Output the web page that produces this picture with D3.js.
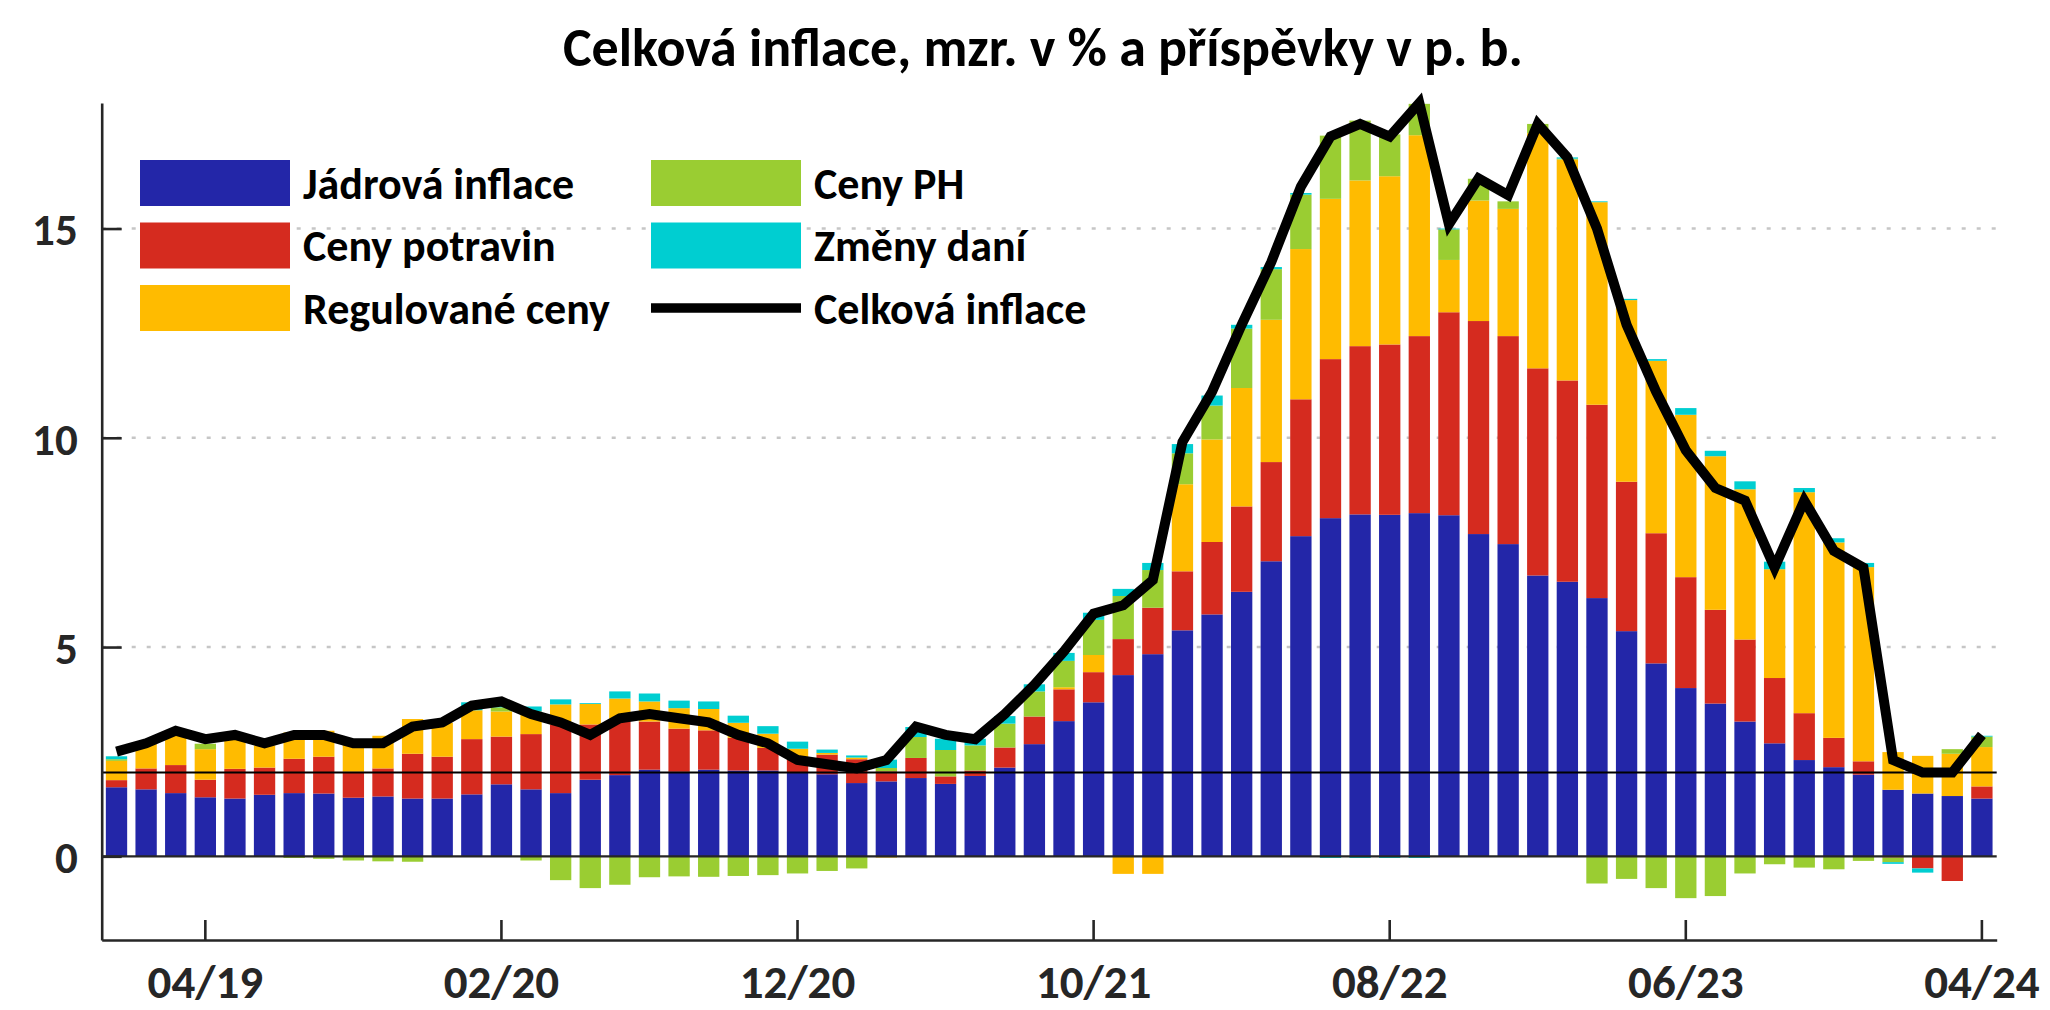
<!DOCTYPE html>
<html>
<head>
<meta charset="utf-8">
<script src="https://cdn.jsdelivr.net/npm/d3@7"></script>
<style>
  html, body { margin: 0; padding: 0; background: #fff; }
  svg { display: block; }
  text { font-family: Carlito, Calibri, Lato, "DejaVu Sans", sans-serif; font-weight: bold; }
</style>
</head>
<body>
<svg id="chart" width="2050" height="1010"></svg>
<script>
// ---------- DATA ----------
const months = [
  "01/19","02/19","03/19","04/19","05/19","06/19","07/19","08/19","09/19","10/19","11/19","12/19",
  "01/20","02/20","03/20","04/20","05/20","06/20","07/20","08/20","09/20","10/20","11/20","12/20",
  "01/21","02/21","03/21","04/21","05/21","06/21","07/21","08/21","09/21","10/21","11/21","12/21",
  "01/22","02/22","03/22","04/22","05/22","06/22","07/22","08/22","09/22","10/22","11/22","12/22",
  "01/23","02/23","03/23","04/23","05/23","06/23","07/23","08/23","09/23","10/23","11/23","12/23",
  "01/24","02/24","03/24","04/24"
];
const tickLabels = ["04/19","02/20","12/20","10/21","08/22","06/23","04/24"];
const yTicks = [0, 5, 10, 15];
const gridValues = [5, 10, 15];
const targetValue = 2;

// Jádrová inflace
const core = [1.65,1.60,1.51,1.41,1.38,1.47,1.51,1.50,1.40,1.43,1.38,1.38,
  1.48,1.72,1.60,1.51,1.83,1.94,2.07,2.02,2.07,2.05,2.05,1.99,
  1.96,1.75,1.79,1.87,1.73,1.92,2.12,2.68,3.23,3.68,4.33,4.83,
  5.40,5.78,6.32,7.05,7.65,8.08,8.17,8.16,8.20,8.15,7.70,7.46,
  6.71,6.56,6.17,5.38,4.61,4.02,3.65,3.22,2.70,2.30,2.13,1.95,
  1.59,1.50,1.44,1.38];
// Ceny potravin
const food = [0.17,0.50,0.67,0.42,0.71,0.65,0.82,0.88,0.62,0.67,1.07,1.00,
  1.32,1.14,1.32,1.64,1.32,1.29,1.15,1.03,0.94,0.78,0.54,0.32,
  0.47,0.57,0.24,0.48,0.18,0.13,0.48,0.66,0.76,0.72,0.86,1.11,
  1.41,1.73,2.04,2.37,3.27,3.80,4.02,4.07,4.23,4.85,5.09,4.97,
  4.95,4.81,4.62,3.57,3.11,2.65,2.24,1.96,1.56,1.12,0.70,0.32,
  -0.03,-0.29,-0.59,0.29];
// Regulované ceny
const regulated = [0.46,0.60,0.72,0.73,0.72,0.53,0.63,0.62,0.70,0.78,0.83,0.81,
  0.69,0.60,0.54,0.48,0.49,0.54,0.48,0.49,0.51,0.36,0.34,0.26,
  0.04,0.04,-0.03,0.00,0.00,0.00,0.00,0.00,0.05,0.41,-0.42,-0.42,
  2.08,2.45,2.83,3.40,3.59,3.83,3.96,4.02,4.80,1.25,2.88,3.04,
  5.62,5.28,4.84,4.34,4.12,3.88,3.67,3.59,2.60,5.28,4.67,4.64,
  0.90,0.90,1.01,0.94];
// Ceny PH
const fuel = [0.04,0.00,0.05,0.13,0.00,0.00,-0.04,-0.06,-0.10,-0.12,-0.13,-0.02,
  0.00,0.10,-0.10,-0.57,-0.76,-0.68,-0.50,-0.48,-0.49,-0.47,-0.45,-0.41,
  -0.35,-0.29,0.08,0.50,0.63,0.60,0.57,0.60,0.63,0.84,1.03,0.90,
  0.74,0.81,1.42,1.21,1.30,1.51,1.43,1.00,0.75,0.73,0.52,0.18,
  0.22,0.02,-0.65,-0.54,-0.76,-1.00,-0.95,-0.41,-0.19,-0.27,-0.31,-0.11,
  -0.11,0.00,0.11,0.25];
// Změny daní
const taxes = [0.07,0.00,0.05,0.00,0.00,0.00,0.00,0.00,0.00,0.00,0.00,0.00,
  0.19,0.10,0.12,0.12,0.02,0.17,0.19,0.18,0.18,0.17,0.18,0.17,
  0.08,0.05,0.20,0.24,0.27,0.16,0.18,0.17,0.19,0.17,0.17,0.17,
  0.22,0.24,0.09,0.05,0.04,-0.04,-0.04,-0.04,-0.04,0.02,0.00,0.00,
  0.00,0.03,0.02,0.03,0.04,0.16,0.13,0.19,0.18,0.10,0.10,0.10,
  -0.04,-0.10,0.00,0.02];
// Celková inflace
const headline = [2.5,2.7,3.0,2.8,2.9,2.7,2.9,2.9,2.7,2.7,3.1,3.2,
  3.6,3.7,3.4,3.2,2.9,3.3,3.4,3.3,3.2,2.9,2.7,2.3,
  2.2,2.1,2.3,3.1,2.9,2.8,3.4,4.1,4.9,5.8,6.0,6.6,
  9.9,11.1,12.7,14.2,16.0,17.2,17.5,17.2,18.0,15.1,16.2,15.8,
  17.5,16.7,15.0,12.7,11.1,9.7,8.8,8.5,6.9,8.5,7.3,6.9,
  2.3,2.0,2.0,2.9];

const seriesKeys = ["core","food","regulated","fuel","taxes"];
const seriesNames = ["Jádrová inflace","Ceny potravin","Regulované ceny","Ceny PH","Změny daní"];
const seriesColors = ["#2326a8","#d52b1f","#ffbb00","#9acd32","#00ced1"];
const lineName = "Celková inflace";
const titleText = "Celková inflace, mzr. v % a příspěvky v p. b.";

// ---------- LAYOUT ----------
const W = 2050, H = 1010;
const plotLeft = 101.7, plotRight = 1996.7, plotTop = 103, plotBottom = 940;

const svg = d3.select("#chart");
svg.append("rect").attr("width", W).attr("height", H).attr("fill", "#fff");

const rows = months.map((m, i) => ({
  m, core: core[i], food: food[i], regulated: regulated[i], fuel: fuel[i], taxes: taxes[i], total: headline[i]
}));

const x = d3.scaleBand().domain(months).range([plotLeft, plotRight]).paddingInner(0.28).paddingOuter(0.14);
const y = d3.scaleLinear().domain([-2, 18]).range([plotBottom, plotTop]);

// gridlines
svg.append("g").selectAll("line").data(gridValues).join("line")
  .attr("x1", plotLeft).attr("x2", plotRight)
  .attr("y1", d => y(d)).attr("y2", d => y(d))
  .attr("stroke", "#c6c6c6").attr("stroke-width", 2.5).attr("stroke-dasharray", "4,11");

// stacked bars
const stack = d3.stack().keys(seriesKeys).offset(d3.stackOffsetDiverging);
const stacked = stack(rows);
const gBars = svg.append("g");
stacked.forEach((layer, k) => {
  gBars.append("g").attr("fill", seriesColors[k])
    .selectAll("rect").data(layer).join("rect")
    .attr("x", d => x(d.data.m))
    .attr("width", x.bandwidth())
    .attr("y", d => y(Math.max(d[0], d[1])))
    .attr("height", d => Math.abs(y(d[0]) - y(d[1])));
});

// zero and 2% lines
svg.append("line").attr("x1", plotLeft).attr("x2", plotRight).attr("y1", y(0)).attr("y2", y(0))
  .attr("stroke", "#262626").attr("stroke-width", 2.2);
svg.append("line").attr("x1", plotLeft).attr("x2", plotRight).attr("y1", y(targetValue)).attr("y2", y(targetValue))
  .attr("stroke", "#000").attr("stroke-width", 2);

// headline line
const line = d3.line().x(d => x(d.m) + x.bandwidth() / 2).y(d => y(d.total));
svg.append("path").datum(rows).attr("d", line)
  .attr("fill", "none").attr("stroke", "#000").attr("stroke-width", 10)
  .attr("stroke-linejoin", "miter").attr("stroke-miterlimit", 4);

// axes
const xAxis = d3.axisBottom(x).tickValues(tickLabels).tickSizeInner(-20).tickSizeOuter(0).tickPadding(0);
const gx = svg.append("g").attr("transform", `translate(0,${plotBottom})`).call(xAxis);
gx.select(".domain").attr("stroke", "#262626").attr("stroke-width", 2.6);
gx.selectAll(".tick line").attr("stroke", "#262626").attr("stroke-width", 2.6);
gx.selectAll(".tick text").attr("y", 58).attr("dy", 0).attr("fill", "#262626")
  .style("font-size", "47px");

const yAxis = d3.axisLeft(y).tickValues(yTicks).tickSizeInner(-20).tickSizeOuter(0).tickPadding(24);
const gy = svg.append("g").attr("transform", `translate(${plotLeft},0)`).call(yAxis);
gy.select(".domain").attr("stroke", "#262626").attr("stroke-width", 2.6);
gy.selectAll(".tick line").attr("stroke", "#262626").attr("stroke-width", 2.6);
gy.selectAll(".tick text").attr("dy", "0.36em").attr("fill", "#262626")
  .style("font-size", "45px");

// title
svg.append("text").attr("x", 1043).attr("y", 66).attr("text-anchor", "middle")
  .attr("fill", "#000").style("font-size", "54px").text(titleText);

// legend
const legendItems = [
  {name: seriesNames[0], color: seriesColors[0], col: 0, row: 0},
  {name: seriesNames[1], color: seriesColors[1], col: 0, row: 1},
  {name: seriesNames[2], color: seriesColors[2], col: 0, row: 2},
  {name: seriesNames[3], color: seriesColors[3], col: 1, row: 0},
  {name: seriesNames[4], color: seriesColors[4], col: 1, row: 1},
  {name: lineName, color: null, col: 1, row: 2}
];
const colX = [140, 651], rowY = [183, 245.5, 308];
const gl = svg.append("g");
legendItems.forEach(it => {
  const cx = colX[it.col], cy = rowY[it.row];
  if (it.color) {
    gl.append("rect").attr("x", cx).attr("y", cy - 23).attr("width", 150).attr("height", 46).attr("fill", it.color);
  } else {
    gl.append("line").attr("x1", cx).attr("x2", cx + 150).attr("y1", cy).attr("y2", cy)
      .attr("stroke", "#000").attr("stroke-width", 9.5);
  }
  gl.append("text").attr("x", cx + 163).attr("y", cy).attr("dy", "0.36em")
    .attr("fill", "#000").style("font-size", "44px").text(it.name);
});
</script>
</body>
</html>
